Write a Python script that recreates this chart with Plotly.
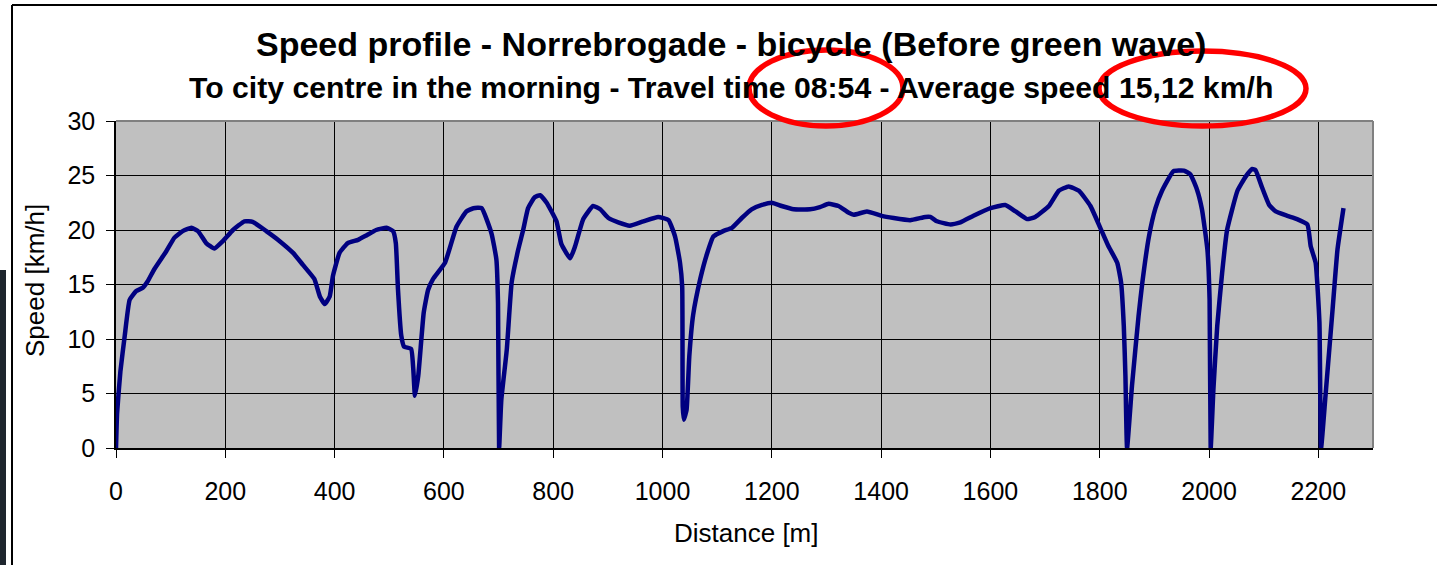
import plotly.graph_objects as go

FONT = "Arial, Liberation Sans, sans-serif"
W, H = 1437, 565

TITLE = "Speed profile - Norrebrogade - bicycle (Before green wave)"
SUBTITLE = "To city centre in the morning - Travel time 08:54 - Average speed 15,12 km/h"

# distance [m] and speed [km/h]
distance = [
    0, 2, 8, 16, 25, 37, 49, 58, 70, 92, 107, 122, 138, 150, 165, 180, 196,
    214, 235, 250, 275, 299, 324, 342, 363, 373, 382, 391, 397, 409, 424, 443,
    458, 476, 495, 507, 512, 516, 522, 527, 540, 544, 547, 553, 563, 571, 580,
    602, 623, 641, 654, 669, 687, 696, 699, 701, 705, 715, 724, 736, 745, 754,
    766, 776, 788, 806, 815, 831, 840, 855, 873, 886, 901, 919, 940, 965, 992,
    1011, 1023, 1032, 1036, 1037, 1039, 1044, 1049, 1056, 1069, 1081, 1093,
    1111, 1127, 1145, 1163, 1182, 1200, 1218, 1240, 1270, 1288, 1304, 1322,
    1340, 1350, 1374, 1401, 1423, 1453, 1481, 1490, 1502, 1527, 1545, 1569,
    1600, 1627, 1646, 1667, 1682, 1707, 1725, 1743, 1762, 1783, 1801, 1816,
    1832, 1839, 1844, 1847, 1850, 1859, 1871, 1878, 1890, 1902, 1914, 1935,
    1954, 1966, 1978, 1987, 1997, 2001, 2003, 2008, 2015, 2024, 2033, 2052,
    2067, 2079, 2085, 2097, 2110, 2122, 2143, 2161, 2180, 2186, 2195, 2202,
    2205, 2213, 2226, 2235, 2246,
]
speed = [
    0, 3.2, 7.0, 10.3, 13.6, 14.4, 14.7, 15.3, 16.4, 18.05, 19.3, 19.9, 20.2,
    19.9, 18.8, 18.3, 19.0, 20.0, 20.8, 20.75, 19.9, 19.0, 17.9, 16.8, 15.5,
    13.9, 13.2, 13.9, 15.8, 17.9, 18.8, 19.1, 19.5, 20.0, 20.2, 19.9, 18.8,
    14.5, 10.3, 9.3, 9.1, 7.2, 4.8, 6.6, 12.4, 14.5, 15.5, 17.0, 20.3, 21.7,
    22.0, 22.0, 19.7, 17.3, 13.3, 0, 4.4, 9.0, 15.2, 18.2, 20.0, 22.0, 23.0,
    23.2, 22.5, 20.8, 18.7, 17.4, 18.5, 21.0, 22.2, 21.9, 21.1, 20.7, 20.4,
    20.8, 21.2, 20.9, 19.4, 17.0, 14.8, 3.8, 2.6, 3.5, 8.4, 12.2, 15.5, 17.75,
    19.4, 19.9, 20.2, 21.1, 21.9, 22.3, 22.5, 22.2, 21.9, 21.9, 22.1, 22.4,
    22.2, 21.6, 21.4, 21.7, 21.3, 21.1, 20.9, 21.2, 21.2, 20.8, 20.5, 20.7,
    21.3, 22.0, 22.3, 21.7, 21.0, 21.2, 22.2, 23.6, 24.0, 23.6, 22.2, 20.2,
    18.5, 17.0, 15.2, 11.2, 6.6, 0, 5.7, 12.1, 15.2, 19.4, 22.0, 23.6, 25.4,
    25.45, 25.1, 23.7, 21.9, 18.2, 13.6, 0, 5.4, 11.2, 16.1, 20.0, 23.6, 24.9,
    25.6, 25.5, 23.9, 22.3, 21.7, 21.3, 21.0, 20.5, 18.5, 17.0, 11.5, 0, 4.75,
    12.7, 18.2, 22.0,
]

x_ticks = list(range(0, 2201, 200))
y_ticks = [0, 5, 10, 15, 20, 25, 30]


def px(x):
    return x / W


def py(y):
    return 1 - y / H


fig = go.Figure(go.Scatter(
    x=distance, y=speed, mode="lines",
    line=dict(color="#000080", width=4.5, shape="spline", smoothing=0.4),
    showlegend=False,
))

axis_common = dict(
    showgrid=True, gridcolor="#000000", gridwidth=1,
    showline=True, linecolor="#000000", linewidth=1.5,
    ticks="outside", ticklen=8, tickcolor="#000000", tickwidth=1,
    tickfont=dict(family=FONT, size=25, color="#000000"),
    zeroline=False, fixedrange=True, automargin=False,
)

fig.update_layout(
    width=W, height=H,
    paper_bgcolor="white", plot_bgcolor="#C0C0C0",
    margin=dict(l=0, r=0, t=0, b=0, pad=0, autoexpand=False),
    xaxis=dict(domain=[px(116), px(1373)], range=[0, 2300],
               tickvals=x_ticks, ticklabelstandoff=12, **axis_common),
    yaxis=dict(domain=[py(448), py(121)], range=[0, 30],
               tickvals=y_ticks, ticklabelstandoff=6, **axis_common),
    font=dict(family=FONT, color="#000000"),
)

# titles and axis titles
fig.add_annotation(x=px(731), y=py(44), xref="paper", yref="paper",
                   text=f"<b>{TITLE}</b>", showarrow=False,
                   font=dict(size=34), xanchor="center", yanchor="middle")
fig.add_annotation(x=px(731), y=py(87), xref="paper", yref="paper",
                   text=f"<b>{SUBTITLE}</b>", showarrow=False,
                   font=dict(size=30.2), xanchor="center", yanchor="middle")
fig.add_annotation(x=px(746), y=py(533), xref="paper", yref="paper",
                   text="Distance [m]", showarrow=False,
                   font=dict(size=26), xanchor="center", yanchor="middle")
fig.add_annotation(x=px(35), y=py(281), xref="paper", yref="paper",
                   text="Speed [km/h]", showarrow=False, textangle=-90,
                   font=dict(size=26), xanchor="center", yanchor="middle")

# gray plot-area border on top and right
fig.add_shape(type="line", xref="x domain", yref="y domain", x0=0, x1=1, y0=1, y1=1,
              line=dict(color="#808080", width=2))
fig.add_shape(type="line", xref="x domain", yref="y domain", x0=1, x1=1, y0=0, y1=1,
              line=dict(color="#808080", width=2))

# outer chart frame and the dark strip at the left edge
fig.add_shape(type="line", xref="paper", yref="paper", x0=px(12), x1=1, y0=py(5), y1=py(5),
              line=dict(color="#000000", width=2))
fig.add_shape(type="line", xref="paper", yref="paper", x0=px(12), x1=px(12), y0=py(5), y1=0,
              line=dict(color="#000000", width=2))
fig.add_shape(type="rect", xref="paper", yref="paper", x0=0, x1=px(6), y0=0, y1=py(270),
              line_width=0, fillcolor="#1e262e")

# red highlight ellipses
fig.add_shape(type="circle", xref="paper", yref="paper",
              x0=px(749), x1=px(903), y0=py(126), y1=py(50),
              line=dict(color="#FF0000", width=5.5))
fig.add_shape(type="circle", xref="paper", yref="paper",
              x0=px(1099), x1=px(1306), y0=py(126), y1=py(51),
              line=dict(color="#FF0000", width=5.5))

# page body has a default margin; drop it so the figure sits at the window's origin
fig.write_html("out.html", config={"displayModeBar": False},
               post_script="document.body.style.margin='0';document.body.style.overflow='hidden';")
